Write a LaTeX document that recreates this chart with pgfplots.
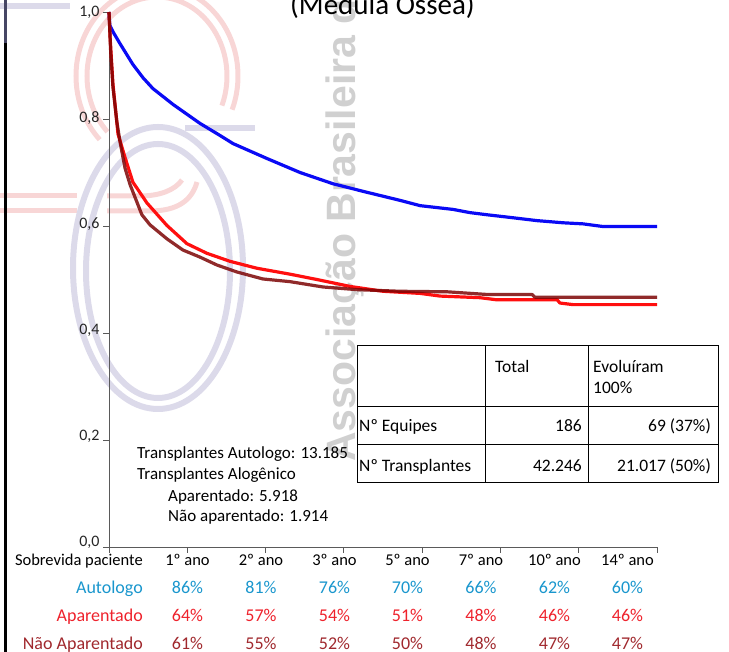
\documentclass[border=0pt]{standalone}
\usepackage{fontspec}
\setmainfont{Carlito}
\newfontfamily\wmfont{Liberation Sans}
\usepackage{pgfplots}
\pgfplotsset{compat=1.18}

\definecolor{autoblue}{RGB}{10,10,245}
\definecolor{apred}{RGB}{255,15,15}
\definecolor{napred}{RGB}{125,5,5}
\definecolor{txtblue}{RGB}{25,150,205}
\definecolor{txtred}{RGB}{238,34,44}
\definecolor{txtdark}{RGB}{160,40,45}
\definecolor{lav}{RGB}{220,218,234}
\definecolor{pinkw}{RGB}{248,214,214}
\definecolor{wmgray}{RGB}{208,208,208}
\definecolor{axgray}{RGB}{90,90,90}

\newcommand{\fs}[1]{\fontsize{#1bp}{#1bp}\selectfont}

\begin{document}
\begin{tikzpicture}
\useasboundingbox (0,0) rectangle (729bp,652bp);

% everything drawn in picture pixels, measured from the top-left corner
\begin{scope}[yshift=652bp, x=1bp, y=-1bp]
% faint logo in the background
\begin{scope}[line width=5bp, draw=pinkw]
  \draw (157,76) ++(135:81 and 90) arc[start angle=135, end angle=382, x radius=81, y radius=90];
  \draw (157,76) ++(135:70 and 79) arc[start angle=135, end angle=382, x radius=70, y radius=79];
  \draw (0,196) -- (77,196);
  \draw (0,211) -- (77,211);
  \draw (107,211) -- (150,211) .. controls (178,211) and (192,200) .. (197,182);
  \draw (107,196) -- (140,196) .. controls (160,196) and (175,190) .. (182,180);
\end{scope}
\begin{scope}[line width=6bp, draw=lav]
  \draw (158,268) ellipse [x radius=85, y radius=141];
  \draw (158,271) ellipse [x radius=72, y radius=127];
  \draw (185,128) -- (255,128);
  \draw (0,6) -- (70,6);
\end{scope}
\node[rotate=90, anchor=base west, text=wmgray, font=\wmfont\bfseries\fs{41}, inner sep=0]
  at (355,462) {Associação Brasileira de Transplante de Órgãos};

% left edge line
\draw[line width=2.5bp, black] (5.5,0) -- (5.5,652);
\draw[line width=3bp, color={rgb,255:red,70;green,70;blue,100}] (5.5,0) -- (5.5,43);

% title (cut at the top)
\node[anchor=base west, inner sep=0, font=\fs{29}] at (290,15) {(Medula Óssea)};
\end{scope}

\begin{axis}[
  at={(109bp,105bp)}, anchor=south west,
  width=548bp, height=535bp, scale only axis,
  xmin=0, xmax=14, ymin=0, ymax=1,
  axis x line=bottom, axis y line=left,
  axis line style={-, draw=axgray, line width=0.8bp},
  xtick={0,2,4,6,8,10,12,14}, xticklabels={},
  ytick={0,0.2,0.4,0.6,0.8,1},
  tick align=outside, major tick length=6bp,
  tick style={draw=axgray, line width=0.8bp},
  yticklabel style={font=\fs{16}, text=black!85, yshift={(5-\ticknum)*1bp}},
  /pgf/number format/use comma,
  /pgf/number format/fixed,
  /pgf/number format/fixed zerofill,
  /pgf/number format/precision=1,
  /pgf/number format/assume math mode=true,
  clip=false,
]
% Autologo
\addplot[autoblue, line width=3.2bp, line join=round] coordinates {
(0,1.0) (0.02,0.975) (0.11,0.962) (0.28,0.941) (0.61,0.902) (0.87,0.877)
(1.12,0.857) (1.64,0.827) (2.32,0.792) (2.84,0.769) (3.17,0.754) (4.04,0.726)
(4.88,0.700) (5.72,0.679) (6.59,0.663) (7.43,0.648) (7.95,0.638) (8.79,0.631)
(9.22,0.625) (9.66,0.621) (10.25,0.616) (10.94,0.610) (11.60,0.606)
(12.11,0.604) (12.62,0.599) (14.0,0.599)
};
% Aparentado
\addplot[apred, line width=3.2bp, line join=round] coordinates {
(0,1.0) (0.03,0.95) (0.10,0.866) (0.23,0.772) (0.41,0.728) (0.61,0.682)
(0.97,0.643) (1.48,0.601) (1.99,0.567) (2.50,0.549) (3.09,0.534) (3.78,0.521)
(4.62,0.510) (5.31,0.500) (6.16,0.487) (7.00,0.478) (7.95,0.474) (8.46,0.469)
(9.48,0.466) (9.91,0.462) (11.45,0.462) (11.52,0.456) (11.86,0.453) (14.0,0.453)
};
% Nao aparentado
\addplot[napred, opacity=0.85, line width=3.2bp, line join=round] coordinates {
(0,1.0) (0.04,0.93) (0.10,0.86) (0.20,0.795) (0.28,0.758) (0.41,0.708)
(0.54,0.677) (0.84,0.621) (1.05,0.602) (1.48,0.576) (1.89,0.555) (2.32,0.542)
(2.76,0.527) (3.27,0.514) (3.93,0.501) (4.62,0.496) (5.47,0.486) (6.34,0.481)
(7.43,0.478) (8.64,0.477) (9.66,0.472) (10.81,0.472) (10.88,0.467) (14.0,0.467)
};
\end{axis}

\begin{scope}[yshift=652bp, x=1bp, y=-1bp]
% note on the number of transplants
\begin{scope}[font=\fs{17}, inner sep=0]
  \node[anchor=base west] at (137,459) {Transplantes Autologo: 13.185};
  \node[anchor=base west] at (137,480) {Transplantes Alogênico};
  \node[anchor=base west] at (168,501.5) {Aparentado: 5.918};
  \node[anchor=base west] at (168,522) {Não aparentado: 1.914};
\end{scope}

% small table
\begin{scope}[line width=1bp]
  \draw (357,346) rectangle (718,483);
  \draw (357,407) -- (718,407);
  \draw (357,445) -- (718,445);
  \draw (485,346) -- (485,483);
  \draw (588,346) -- (588,483);
\end{scope}
\begin{scope}[font=\fs{17.5}, inner sep=0]
  \node[anchor=base west] at (495,373) {Total};
  \node[anchor=base west] at (593,373) {Evoluíram};
  \node[anchor=base west] at (593,394) {100\%};
  \node[anchor=base west] at (359,432) {Nº Equipes};
  \node[anchor=base east] at (582,432) {186};
  \node[anchor=base east] at (711,432) {69 (37\%)};
  \node[anchor=base west] at (359,472) {Nº Transplantes};
  \node[anchor=base east] at (582,472) {42.246};
  \node[anchor=base east] at (711,472) {21.017 (50\%)};
\end{scope}

% survival table under the axis
\node[anchor=base east, inner sep=0, font=\fs{16.5}] at (143,566) {Sobrevida paciente};
\node[anchor=base east, inner sep=0, font=\fs{18}, text=txtblue] at (143,594) {Autologo};
\node[anchor=base east, inner sep=0, font=\fs{18}, text=txtred] at (143,622) {Aparentado};
\node[anchor=base east, inner sep=0, font=\fs{18}, text=txtdark] at (143,650) {Não Aparentado};
\foreach \x/\yr/\a/\b/\c in {
  187.5/1º ano/86/64/61, 261/2º ano/81/57/55, 334.5/3º ano/76/54/52,
  407.5/5º ano/70/51/50, 481/7º ano/66/48/48, 554.5/10º ano/62/46/47,
  627.5/14º ano/60/46/47} {
  \node[anchor=base, inner sep=0, font=\fs{16.5}] at (\x,566) {\yr};
  \node[anchor=base, inner sep=0, font=\fs{18}, text=txtblue] at (\x,594) {\a\%};
  \node[anchor=base, inner sep=0, font=\fs{18}, text=txtred] at (\x,622) {\b\%};
  \node[anchor=base, inner sep=0, font=\fs{18}, text=txtdark] at (\x,650) {\c\%};
}
\end{scope}
\end{tikzpicture}
\end{document}
